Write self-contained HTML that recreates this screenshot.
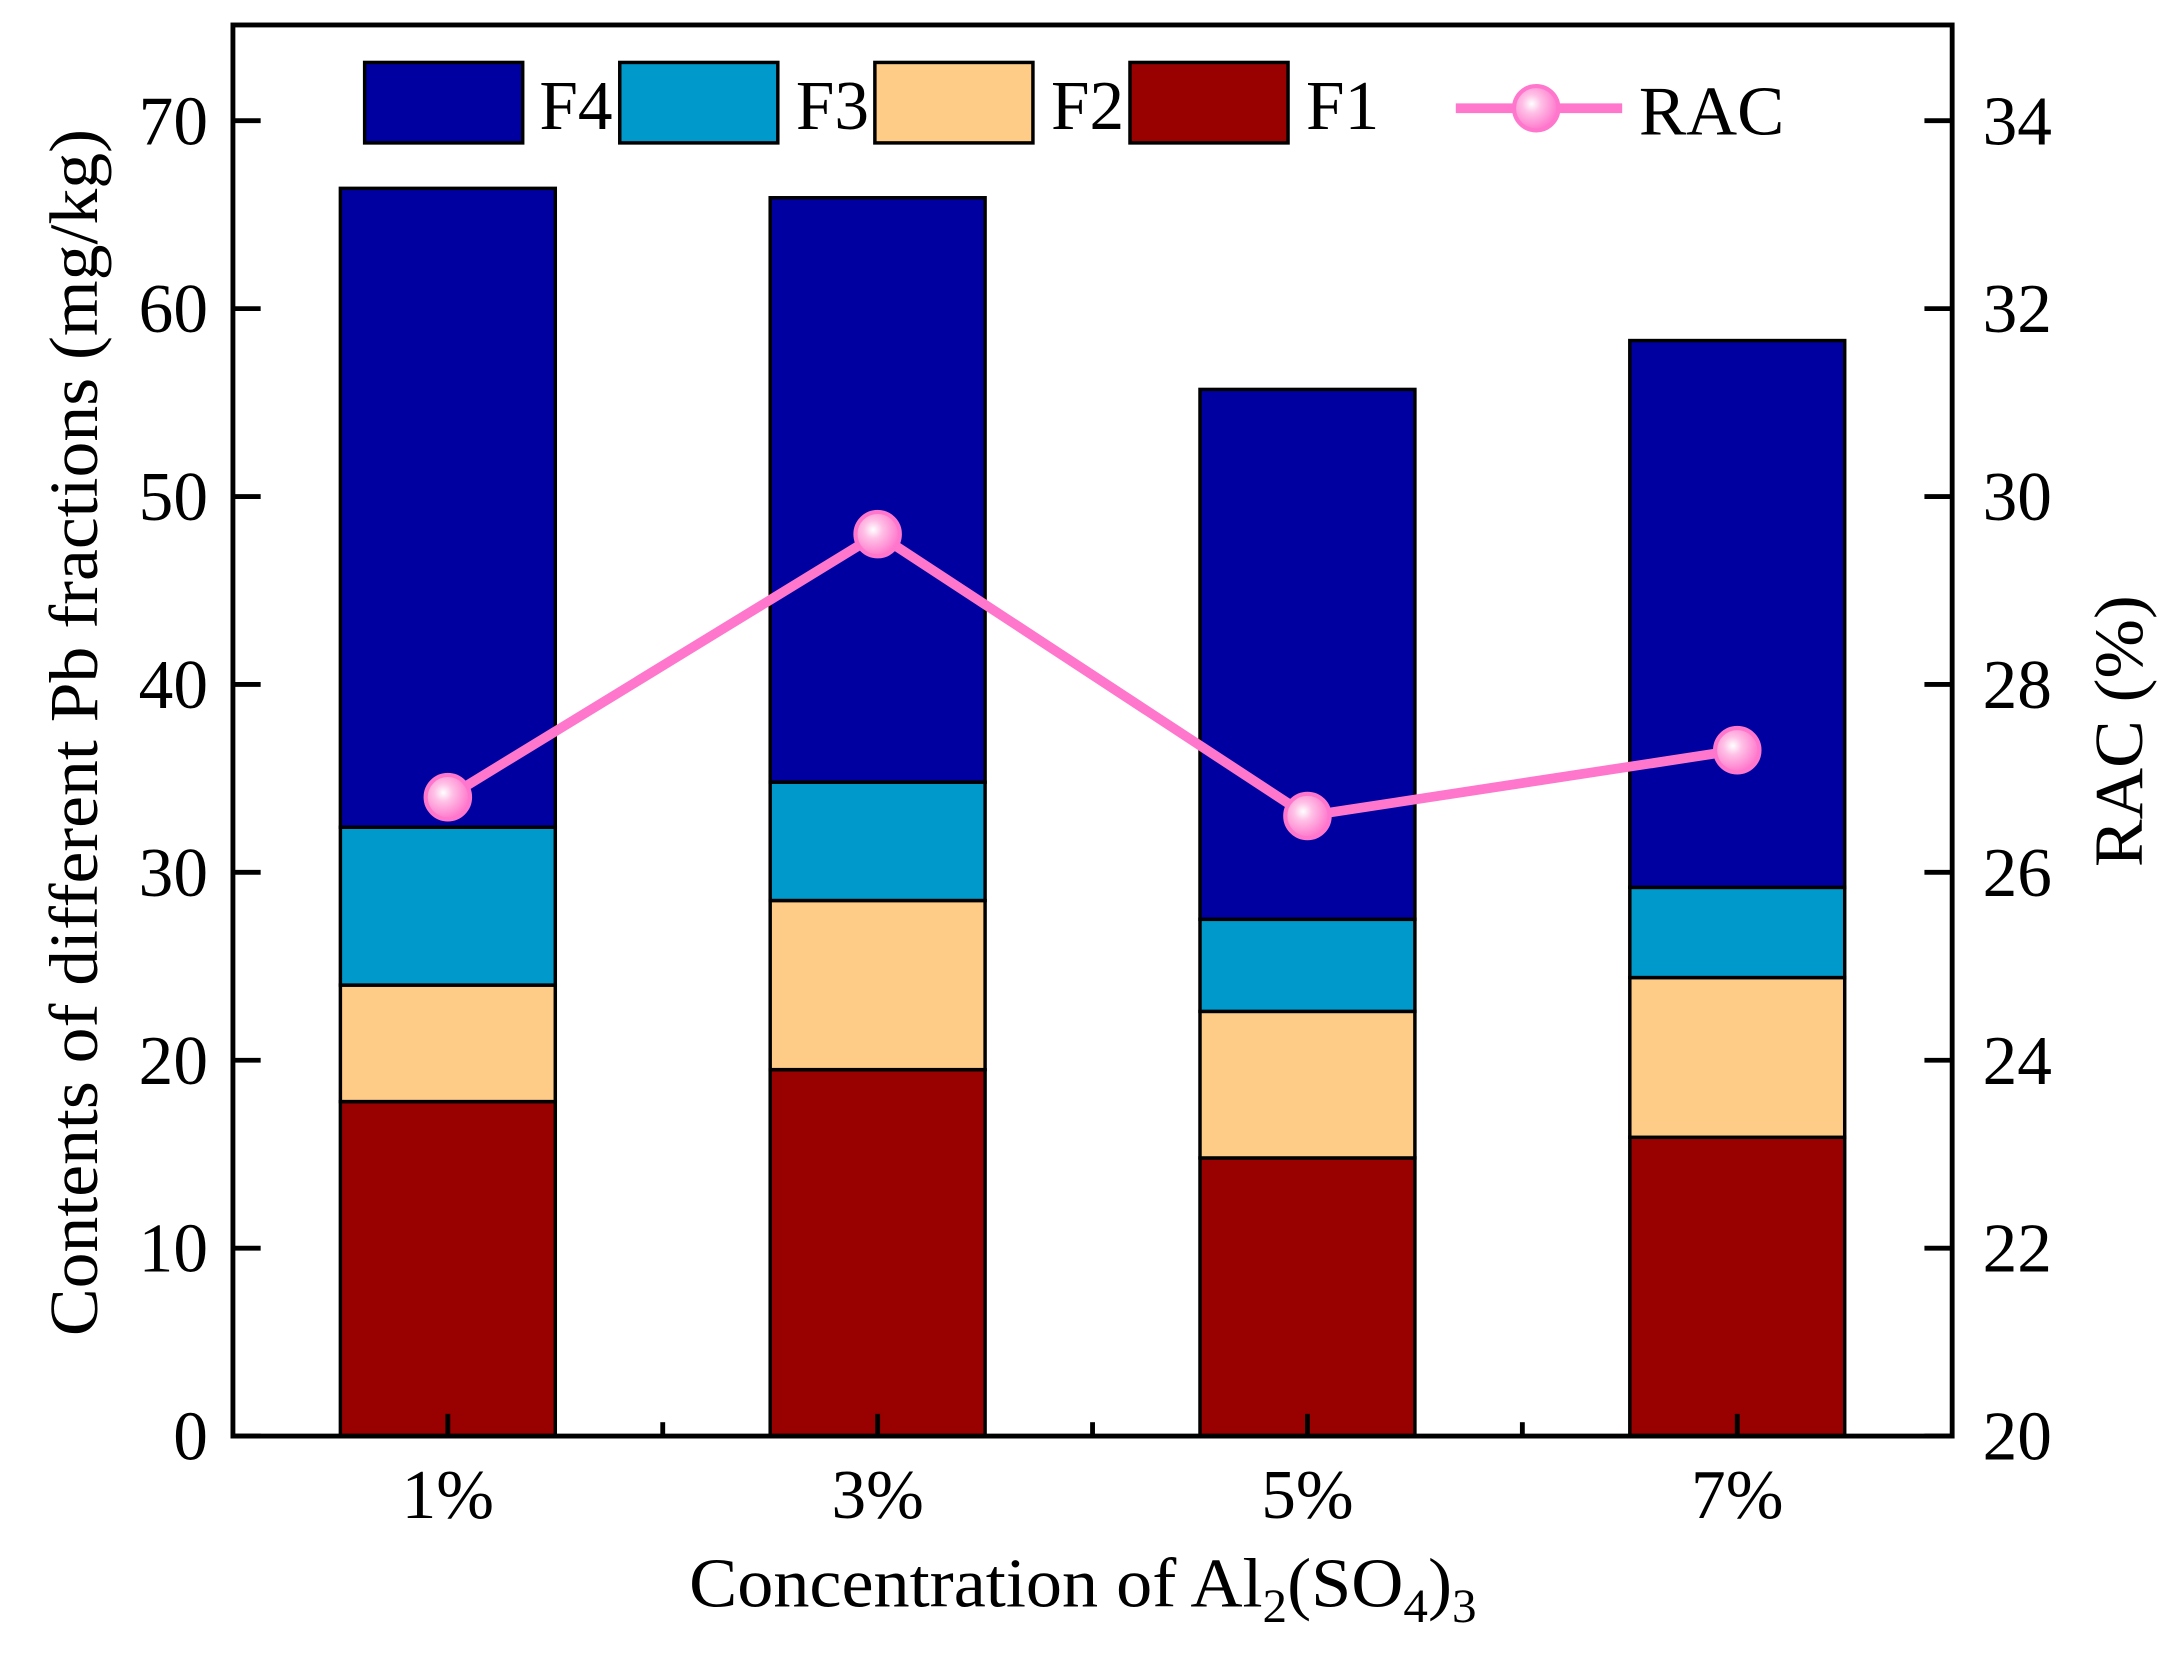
<!DOCTYPE html>
<html><head><meta charset="utf-8"><style>html,body{margin:0;padding:0;background:#fff}svg{display:block}</style></head>
<body>
<svg id="chart" width="2174" height="1665" viewBox="0 0 1568 1200" preserveAspectRatio="none" xmlns="http://www.w3.org/2000/svg" font-family="'Liberation Serif', serif">
<defs>
<radialGradient id="mk" cx="0.4" cy="0.4" r="0.6"><stop offset="0" stop-color="#fff"/><stop offset="0.35" stop-color="#ffc0e6"/><stop offset="1" stop-color="#ff77cc"/></radialGradient>
</defs>
<g id="plot"></g>
<script>
const categories = ["1%", "3%", "5%", "7%"];
const seriesNames = ["F1", "F2", "F3", "F4"];
const f1 = [17.8, 19.5, 14.8, 15.9];
const f2 = [6.2, 9.0, 7.8, 8.5];
const f3 = [8.4, 6.3, 4.9, 4.8];
const f4 = [34.0, 31.1, 28.2, 29.1];
const rac = [26.8, 29.6, 26.6, 27.3];
const leftTicks = [0, 10, 20, 30, 40, 50, 60, 70];
const rightTicks = [20, 22, 24, 26, 28, 30, 32, 34];

const colors = ["#990000", "#ffcc88", "#0099cc", "#0000a0"];
const L = 168, R = 1408, T = 18, B = 1035;
const ns = "http://www.w3.org/2000/svg";
const g = document.getElementById("plot");
function yL(v) { return B - v * (B - 87) / 70; }
function yR(v) { return B - (v - 20) * (B - 87) / 14; }
const step = (R - L) / categories.length;
function xC(i) { return L + step * (i + 0.5); }
function el(tag, attrs, parent) {
  const e = document.createElementNS(ns, tag);
  for (const k in attrs) e.setAttribute(k, attrs[k]);
  (parent || g).appendChild(e);
  return e;
}
const series = [f1, f2, f3, f4];
const bw = 155;
categories.forEach((c, i) => {
  let base = 0;
  series.forEach((s, k) => {
    const top = base + s[i];
    const r = el("rect", {x: xC(i) - bw / 2, y: yL(top), width: bw, height: yL(base) - yL(top), fill: colors[k], stroke: "#000", "stroke-width": 2.5});
    
    
    base = top;
  });
});
const pts = rac.map((v, i) => xC(i) + "," + yR(v)).join(" ");
const pl = el("polyline", {points: pts, fill: "none", stroke: "#ff77cc", "stroke-width": 7});


rac.forEach((v, i) => {
  const m = el("circle", {cx: xC(i), cy: yR(v), r: 16, fill: "url(#mk)", stroke: "#ff77cc", "stroke-width": 3});
  
  
});
const fr = el("rect", {x: L, y: T, width: R - L, height: B - T, fill: "none", stroke: "#000", "stroke-width": 3.5});


leftTicks.forEach(v => {
  const t = el("line", {x1: L, x2: L + 20, y1: yL(v), y2: yL(v), stroke: "#000", "stroke-width": 3.5});
  
  
  const tx = el("text", {x: L - 18, y: yL(v) + 17, "text-anchor": "end", "font-size": 50});
  tx.textContent = v;
  
  
});
rightTicks.forEach(v => {
  const t = el("line", {x1: R - 20, x2: R, y1: yR(v), y2: yR(v), stroke: "#000", "stroke-width": 3.5});
  
  
  const tx = el("text", {x: R + 22, y: yR(v) + 17, "font-size": 50});
  tx.textContent = v;
  
  
});
categories.forEach((c, i) => {
  const t = el("line", {x1: xC(i), x2: xC(i), y1: B, y2: B - 16, stroke: "#000", "stroke-width": 3.5});
  
  
  if (i > 0) {
    const m = el("line", {x1: xC(i) - step / 2, x2: xC(i) - step / 2, y1: B, y2: B - 10, stroke: "#000", "stroke-width": 3.5});
    
    
  }
  const tx = el("text", {x: xC(i), y: 1094, "text-anchor": "middle", "font-size": 50});
  tx.textContent = c;
  
  
});
</script>
<text x="497" y="1158" font-size="50" textLength="568" lengthAdjust="spacingAndGlyphs">Concentration of Al<tspan font-size="34" dy="11">2</tspan><tspan dy="-11">(SO</tspan><tspan font-size="34" dy="11">4</tspan><tspan dy="-11">)</tspan><tspan font-size="34" dy="11">3</tspan></text>
<text transform="translate(70,528) rotate(-90)" text-anchor="middle" font-size="50" textLength="870" lengthAdjust="spacingAndGlyphs">Contents of different Pb fractions (mg/kg)</text>
<text transform="translate(1545,527) rotate(-90)" text-anchor="middle" font-size="50" textLength="196" lengthAdjust="spacingAndGlyphs">RAC (%)</text>
<g>
  <rect x="263" y="45" width="114" height="58" fill="#0000a0" stroke="#000" stroke-width="2.5"/>
  <text x="389" y="93" font-size="50">F4</text>
  <rect x="447" y="45" width="114" height="58" fill="#0099cc" stroke="#000" stroke-width="2.5"/>
  <text x="574" y="93" font-size="50">F3</text>
  <rect x="631" y="45" width="114" height="58" fill="#ffcc88" stroke="#000" stroke-width="2.5"/>
  <text x="758" y="93" font-size="50">F2</text>
  <rect x="815" y="45" width="114" height="58" fill="#990000" stroke="#000" stroke-width="2.5"/>
  <text x="942" y="93" font-size="50">F1</text>
  <line x1="1050" x2="1170" y1="78" y2="78" stroke="#ff77cc" stroke-width="7"/>
  <circle cx="1108" cy="78" r="16" fill="url(#mk)" stroke="#ff77cc" stroke-width="3"/>
  <text x="1182" y="97" font-size="50" textLength="105" lengthAdjust="spacingAndGlyphs">RAC</text>
</g>
</svg>
</body></html>
